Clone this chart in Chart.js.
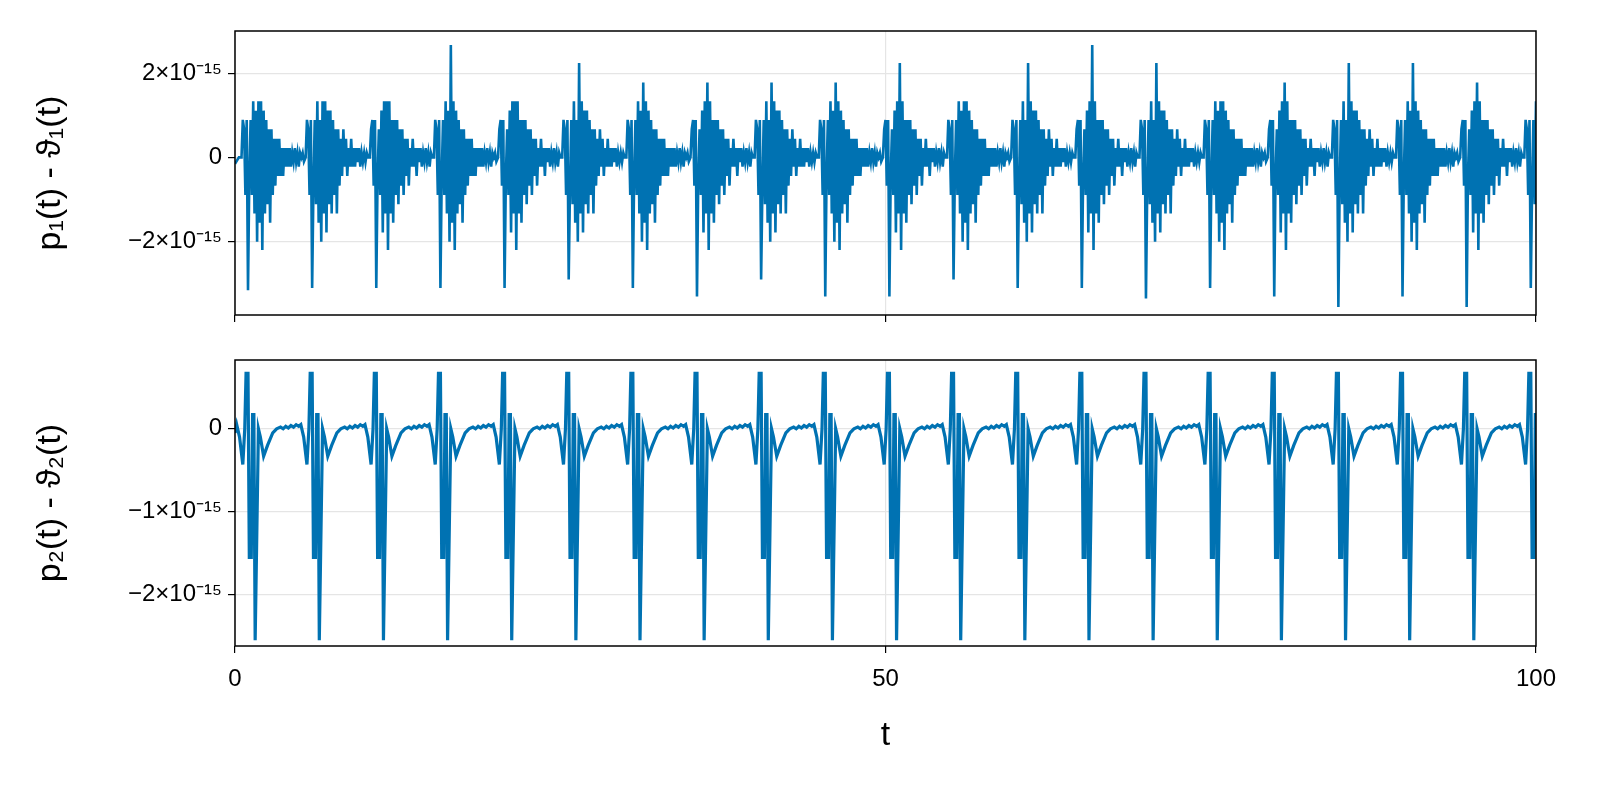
<!DOCTYPE html>
<html><head><meta charset="utf-8">
<script src="https://cdn.jsdelivr.net/npm/chart.js@4"></script>
<style>
html,body{margin:0;padding:0;background:#fff;width:1600px;height:800px;overflow:hidden}
#w1{position:absolute;left:0;top:0;width:1600px;height:340px}
#w2{position:absolute;left:0;top:340px;width:1600px;height:460px}
canvas{display:block}
</style></head><body>
<div id="w1"><canvas id="c1" style="width:1600px;height:340px"></canvas></div>
<div id="w2"><canvas id="c2" style="width:1600px;height:460px"></canvas></div>
<script>
// values in units of 1e-15
const peakTimes = [0.9,5.83,10.76,15.69,20.62,25.55,30.48,35.41,40.34,45.27,50.2,55.13,60.06,64.99,69.92,74.85,79.78,84.71,89.64,94.57,99.5];
// bottom panel: one cycle shape (offset from peak, value)
const shapeOffsets = [-0.77,-0.55,-0.3,-0.15,-0.05,0.1,0.2,0.35,0.45,0.55,0.65,0.9,1.05,1.3,1.6,2.0,2.3,2.6,2.8,3.0,3.2,3.4,3.6,3.8,4.0];
const shapeValues  = [0.05,-0.1,-0.43,0.0,0.67,0.67,-1.55,-1.55,0.17,0.17,-2.55,0.0,-0.1,-0.33,-0.2,-0.05,0.0,0.02,0.0,0.03,0.01,0.04,0.02,0.05,0.03];
// top panel: cycle variants, sampled every 0.1 from (peak - 0.4)
const topA = [0,0.89,0.67,-0.89,0.89,-3.1,-0.44,0.89,-0.89,1.33,-1.33,1.11,-2.0,1.33,-1.55,1.33,-2.2,1.11,-1.33,0.89,-1.11,0.67,-1.55,0.67,-0.89,0.44,-0.67,0.44,-0.44,0.44,-0.44,0.22,-0.44,0.22,-0.22,0.22,-0.22,0.22,-0.22,0.11,-0.11,0.22,-0.11,0.11,-0.22,0.11,0.0,0.11,-0.1];
const topB = [0,0.89,0.67,-0.89,0.89,-3.1,-0.67,0.89,-1.11,1.33,-1.55,0.89,-2.0,1.33,-1.33,1.33,-1.78,1.11,-1.11,1.11,-1.33,0.89,-0.89,0.67,-1.33,0.67,-0.67,0.44,-0.44,0.67,-0.22,0.44,-0.44,0.22,-0.22,0.44,-0.22,0.22,-0.22,0.22,-0.11,0.22,-0.22,0.11,-0.11,0.11,-0.11,0.11,0];
const topC = [0,0.67,0.89,-0.67,0.89,-3.1,-0.44,0.67,-0.89,1.11,-1.78,1.33,-1.33,1.33,-2.2,1.33,-1.33,0.89,-1.55,0.89,-0.89,0.89,-1.11,0.67,-0.67,0.67,-0.89,0.44,-0.44,0.44,-0.67,0.22,-0.22,0.44,-0.22,0.22,-0.44,0.22,-0.11,0.22,-0.22,0.11,-0.11,0.22,-0.11,0.11,-0.22,0.11,0];
const cycleVariant = ['A','B','C','A','C','B','A','C','B','A','C','A','B','C','B','A','C','B','A','C','B'];
const cycleDip = [-3.15,-3.1,-3.1,-3.1,-3.1,-2.9,-3.1,-3.3,-2.9,-3.3,-3.3,-2.9,-3.1,-3.1,-3.35,-3.1,-3.3,-3.55,-3.3,-3.55,-3.1];
const cycleMax = [1.33,1.33,1.33,2.67,1.33,2.24,1.78,1.78,1.78,1.78,2.24,1.33,2.24,2.67,2.24,1.33,1.78,2.24,2.24,1.78,1.33];
const yTicksTop = [-2,0,2];
const yTicksBot = [-2,-1,0];
const xTicks = [0,50,100];

const variants = {A: topA, B: topB, C: topC};
const bottomData = [{x:0,y:-0.05}];
peakTimes.forEach(p => shapeOffsets.forEach((o,i) => bottomData.push({x:p+o, y:shapeValues[i]})));
const topData = [{x:0,y:-0.15},{x:0.3,y:0.0}];
peakTimes.forEach((p,c) => {
  const arr = variants[cycleVariant[c]].slice();
  arr[5] = cycleDip[c]; arr[13] = cycleMax[c];
  const start = p - 0.4, next = (peakTimes[c+1] ?? 200) - 0.4;
  arr.forEach((v,i) => { const x = start + i*0.1; if (x < next - 0.01) topData.push({x, y:v}); });
});

const BLUE = '#0072b2';
const FONT = 'Liberation Sans, Arial, sans-serif';
const fmt = v => v === 0 ? '0' : (v < 0 ? '−' : '') + Math.abs(v) + '×10⁻¹⁵';
const frame = {id:'frame', afterDraw(ch){const a=ch.chartArea,c=ch.ctx;c.save();c.strokeStyle='#000';c.lineWidth=1.5;c.strokeRect(a.left,a.top,a.right-a.left,a.bottom-a.top);c.restore();}};
const fixArea = (L,T,R,B,XB) => ({id:'fixArea', afterLayout(ch){
  const a=ch.chartArea; a.left=L;a.top=T;a.right=R;a.bottom=B;a.width=R-L;a.height=B-T;
  const x=ch.scales.x,y=ch.scales.y;
  x.left=L;x.right=R;x.width=R-L;x.top=B;x.bottom=XB;x.height=XB-B;
  y.top=T;y.bottom=B;y.height=B-T;y.left=0;y.right=L;y.width=L;
  x.configure();y.configure();
}});

function make(id, data, ticksY, ymin, ymax, title, area, showX, lw) {
  return new Chart(document.getElementById(id), {
    type:'line',
    data:{datasets:[{data, borderColor:BLUE, borderWidth:lw, pointRadius:0, tension:0}]},
    options:{
      responsive:false, animation:false, devicePixelRatio:1,
      layout:{padding:0},
      plugins:{legend:{display:false},tooltip:{enabled:false}},
      scales:{
        x:{type:'linear',min:0,max:100,
          afterBuildTicks:s=>{s.ticks=xTicks.map(v=>({value:v}));},
          grid:{color:'#e5e5e5',lineWidth:1.2,tickColor:'#000',tickLength:7,drawTicks:true},
          border:{display:false},
          ticks:{display:showX,color:'#000',font:{family:FONT,size:24},padding:12,maxRotation:0},
          title:{display:showX,text:'t',color:'#000',font:{family:FONT,size:34},padding:{top:20,bottom:0}}},
        y:{type:'linear',min:ymin,max:ymax,
          afterBuildTicks:s=>{s.ticks=ticksY.map(v=>({value:v}));},
          grid:{color:'#e5e5e5',lineWidth:1.2,tickColor:'#000',tickLength:7},
          border:{display:false},
          ticks:{color:'#000',font:{family:FONT,size:24},padding:6,callback:fmt},
          title:{display:true,text:title,color:'#000',font:{family:FONT,size:34},padding:{top:30,bottom:0}}}
      }
    },
    plugins:[frame, fixArea(...area)]
  });
}
make('c1', topData, yTicksTop, -3.74, 3.0, 'p₁(t) - ϑ₁(t)', [235,31,1536,315,340], false, 2.6);
make('c2', bottomData, yTicksBot, -2.62, 0.83, 'p₂(t) - ϑ₂(t)', [235,20,1536,306,416], true, 3.2);
</script></body></html>
